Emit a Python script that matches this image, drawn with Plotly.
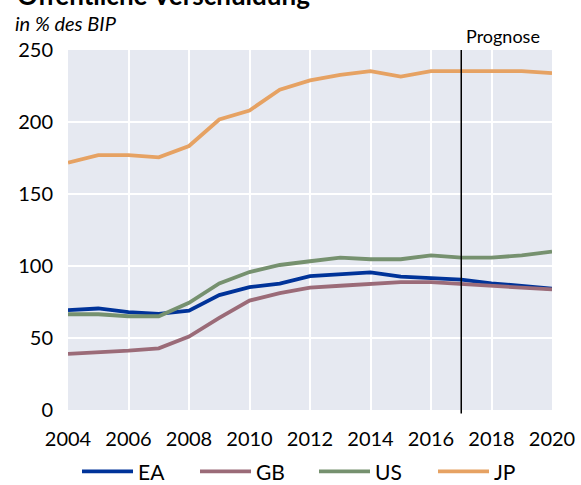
import plotly.graph_objects as go

years = list(range(2004, 2021))
ea = [69.3, 70.5, 67.9, 66.7, 69.0, 79.8, 85.3, 87.7, 93.0, 94.2, 95.6, 92.6, 91.6, 90.5, 88.0, 86.3, 84.2]
gb = [39.0, 40.0, 41.2, 42.8, 51.0, 64.0, 76.0, 81.2, 85.0, 86.3, 87.7, 88.8, 88.8, 87.4, 86.3, 85.0, 83.7]
us = [66.5, 66.5, 65.1, 65.1, 74.4, 87.9, 95.8, 100.7, 103.3, 105.8, 104.7, 104.7, 107.4, 105.8, 105.8, 107.4, 110.0]
jp = [171.8, 177.0, 177.0, 175.5, 183.3, 201.7, 208.0, 222.4, 228.9, 232.8, 235.3, 231.6, 235.3, 235.3, 235.3, 235.3, 234.0]

series_names = ["EA", "GB", "US", "JP"]
series_values = [ea, gb, us, jp]
colors = ["#003399", "#9b6b78", "#76916f", "#e6a263"]

prognose_year = 2017
x_ticks = list(range(2004, 2021, 2))
y_ticks = [0, 50, 100, 150, 200, 250]

FONT = "Lato"

fig = go.Figure()
for name, vals, col in zip(series_names, series_values, colors):
    fig.add_trace(go.Scatter(x=years, y=vals, mode="lines", name=name,
                             line=dict(color=col, width=3.8), showlegend=False))

# Prognose line
fig.add_shape(type="line", xref="x", yref="paper", x0=prognose_year, x1=prognose_year,
              y0=-0.01, y1=1.0, line=dict(color="black", width=1.5))
fig.add_annotation(x=prognose_year, xref="x", xanchor="left", xshift=3,
                   y=1.0, yref="paper", yanchor="bottom", yshift=1,
                   text="Prognose", showarrow=False, font=dict(size=18, color="black", family=FONT))

# Title and subtitle
fig.add_annotation(x=-68/484 + 15/484, xref="paper", xanchor="left",
                   y=1 + 37/358, yref="paper", yanchor="bottom",
                   text="<b>Öffentliche Verschuldung</b>", showarrow=False,
                   font=dict(size=26, color="black", family=FONT))
fig.add_annotation(x=-68/484 + 13/484, xref="paper", xanchor="left",
                   y=1 + 27/358, yref="paper", yanchor="middle",
                   text="<i>in % des BIP</i>", showarrow=False,
                   font=dict(size=20, color="black", family=FONT))

# Manual legend
leg_y = (410 - 471) / 358
starts = [82, 200, 319, 438]
for name, col, sx in zip(series_names, colors, starts):
    fig.add_shape(type="line", xref="paper", yref="paper",
                  x0=(sx - 68) / 484, x1=(sx + 51 - 68) / 484, y0=leg_y, y1=leg_y,
                  line=dict(color=col, width=3.8))
    fig.add_annotation(x=(sx + 54 - 68) / 484, xref="paper", xanchor="left",
                       y=leg_y, yref="paper", yanchor="middle",
                       text=name, showarrow=False,
                       font=dict(size=21, color="black", family=FONT))

fig.update_layout(
    width=581, height=485,
    margin=dict(l=68, r=29, t=50, b=75, autoexpand=False),
    paper_bgcolor="white",
    plot_bgcolor="#e6e9f1",
    font=dict(family=FONT, size=20, color="black"),
    showlegend=False,
)
fig.update_xaxes(range=[2004, 2020], tickvals=x_ticks, ticktext=[str(t) for t in x_ticks],
                 showgrid=True, gridcolor="white", gridwidth=1.5, zeroline=False, automargin=False,
                 ticks="", ticklabelstandoff=15, tickfont=dict(size=20, family=FONT), showline=False)
fig.update_yaxes(range=[0, 250], tickvals=y_ticks, showgrid=True, gridcolor="white",
                 gridwidth=1.5, zeroline=False, ticks="", ticklabelstandoff=14, automargin=False,
                 tickfont=dict(size=20, family=FONT), showline=False)

fig.write_html("out.html", config={"displayModeBar": False},
               post_script="document.body.style.margin='0';")
